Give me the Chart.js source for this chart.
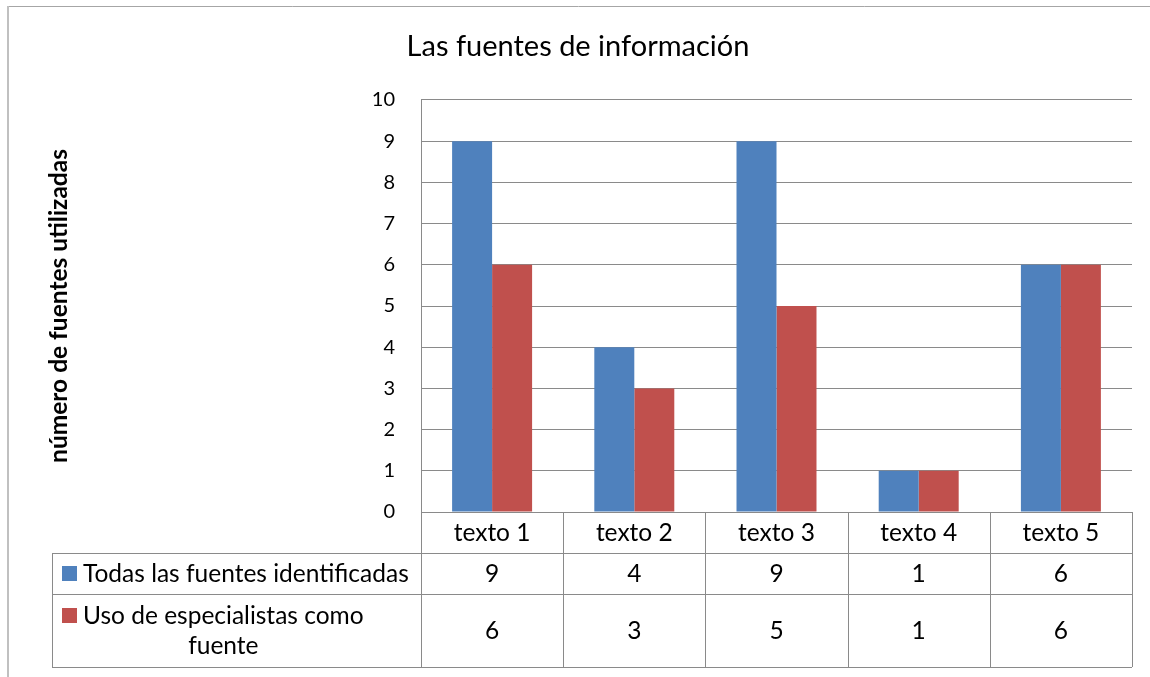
<!DOCTYPE html>
<html><head><meta charset="utf-8">
<script src="https://cdn.jsdelivr.net/npm/chart.js@4/dist/chart.umd.min.js"></script>
<style>html,body{margin:0;padding:0;background:#fff;}#wrap{width:1150px;height:677px;position:relative;}</style>
</head><body><div id="wrap"><canvas id="c" width="1150" height="677"></canvas></div>
<script>
// ---- data ----
const categories = ['texto 1', 'texto 2', 'texto 3', 'texto 4', 'texto 5'];
const seriesNames = ['Todas las fuentes identificadas', 'Uso de especialistas como fuente'];
const todasValues = [9, 4, 9, 1, 6];
const especialistasValues = [6, 3, 5, 1, 6];
const yTickValues = [0, 1, 2, 3, 4, 5, 6, 7, 8, 9, 10];
const chartTitle = 'Las fuentes de información';
const yAxisTitle = 'número de fuentes utilizadas';

// ---- styles ----
const FONT = 'Lato';
const BLUE = '#4F81BD';
const RED = '#C0504D';
const GRID = '#8a8a8a';
const HEADER_H = 41, ROW1_H = 41, ROW2_H = 73;
const LEG_LEFT = 52;
const TABLE_FONT = 24.5;
const PAD_LEFT = 24;

const seriesValues = [todasValues, especialistasValues];
const seriesColors = [BLUE, RED];

function wrapText(ctx, text, maxW) {
  const words = text.split(' ');
  const lines = [];
  let cur = '';
  for (const w of words) {
    const t = cur ? cur + ' ' + w : w;
    if (ctx.measureText(t).width > maxW && cur) { lines.push(cur); cur = w; }
    else cur = t;
  }
  if (cur) lines.push(cur);
  return lines;
}

const tablePlugin = {
  id: 'dataTable',
  beforeDraw(chart) {
    const ctx = chart.ctx;
    ctx.save();
    ctx.fillStyle = '#fff';
    ctx.fillRect(0, 0, chart.width, chart.height);
    ctx.strokeStyle = '#a6a6a6';
    ctx.lineWidth = 1;
    ctx.beginPath(); ctx.moveTo(7, 6.5); ctx.lineTo(chart.width, 6.5); ctx.stroke();
    ctx.strokeStyle = '#c0c0c0';
    ctx.lineWidth = 2;
    ctx.beginPath(); ctx.moveTo(8, 6); ctx.lineTo(8, chart.height); ctx.stroke();
    ctx.restore();
  },
  afterDraw(chart) {
    const ctx = chart.ctx;
    const {left, right, bottom} = chart.chartArea;
    const xs = chart.scales.x;
    const n = categories.length;
    const cw = (right - left) / n;
    const y0 = bottom, y1 = y0 + HEADER_H, y2 = y1 + ROW1_H, y3 = y2 + ROW2_H;
    ctx.save();
    ctx.strokeStyle = GRID;
    ctx.lineWidth = 1;
    ctx.beginPath();
    [y1, y2, y3].forEach(y => { ctx.moveTo(LEG_LEFT, Math.round(y) + 0.5); ctx.lineTo(right, Math.round(y) + 0.5); });
    ctx.moveTo(LEG_LEFT + 0.5, y1); ctx.lineTo(LEG_LEFT + 0.5, y3);
    for (let i = 0; i <= n; i++) {
      const bx = Math.round(xs.getPixelForValue(0) - cw / 2 + i * cw) + 0.5;
      ctx.moveTo(bx, y0); ctx.lineTo(bx, y3);
    }
    ctx.stroke();

    ctx.font = TABLE_FONT + 'px ' + FONT;
    ctx.fillStyle = '#000';
    ctx.textBaseline = 'middle';
    const rows = [[y1, y2], [y2, y3]];
    const lineH = 30;
    const textX = LEG_LEFT + 31;
    const maxW = left - textX - 4;
    rows.forEach(([ta, tb], r) => {
      const lines = wrapText(ctx, seriesNames[r], maxW);
      const blockW = Math.max(...lines.map(l => ctx.measureText(l).width));
      const cy = (ta + tb) / 2;
      const firstY = cy - (lines.length - 1) * lineH / 2;
      ctx.fillStyle = seriesColors[r];
      ctx.fillRect(LEG_LEFT + 10, Math.round(firstY - 7.5), 15, 15);
      ctx.fillStyle = '#000';
      ctx.textAlign = 'center';
      lines.forEach((l, k) => ctx.fillText(l, textX + blockW / 2, firstY + k * lineH + 1));
      seriesValues[r].forEach((v, i) => {
        ctx.fillText(String(v), xs.getPixelForValue(i), cy + 1);
      });
    });
    ctx.restore();
  }
};

new Chart(document.getElementById('c'), {
  type: 'bar',
  data: {
    labels: categories,
    datasets: seriesNames.map((name, k) => ({
      label: name,
      data: seriesValues[k],
      backgroundColor: seriesColors[k],
      borderWidth: 0,
      categoryPercentage: 0.5625,
      barPercentage: 1.0
    }))
  },
  options: {
    responsive: false,
    animation: false,
    devicePixelRatio: 1,
    layout: {padding: {left: PAD_LEFT, right: 18, top: 0, bottom: 0}},
    plugins: {
      legend: {display: false},
      tooltip: {enabled: false},
      title: {
        display: true,
        text: chartTitle,
        color: '#000',
        font: {family: FONT, size: 29, weight: 'normal'},
        padding: {top: 29.4, bottom: 35.8}
      }
    },
    scales: {
      x: {
        grid: {display: false, drawTicks: false},
        border: {display: false},
        ticks: {color: '#000', font: {family: FONT, size: TABLE_FONT}, padding: 6},
        afterFit(s) { s.height = 165; }
      },
      y: {
        min: 0, max: 10,
        afterBuildTicks(s) { s.ticks = yTickValues.map(v => ({value: v})); },
        grid: {color: GRID, drawTicks: false},
        border: {display: true, color: GRID},
        ticks: {color: '#000', font: {family: FONT, size: 20}, padding: 26},
        title: {
          display: true,
          text: yAxisTitle,
          color: '#000',
          font: {family: FONT, size: 24.5, weight: 'bold'},
          padding: {top: 44 - PAD_LEFT, bottom: 0}
        },
        afterFit(s) { s.width = 421 - PAD_LEFT; }
      }
    }
  },
  plugins: [tablePlugin]
});
</script>
</body></html>
